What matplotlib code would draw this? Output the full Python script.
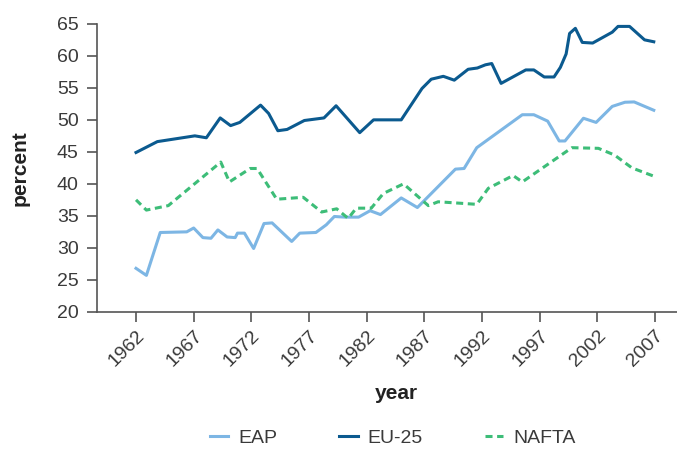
import matplotlib
matplotlib.use("Agg")
import matplotlib.pyplot as plt
from matplotlib.transforms import ScaledTranslation

# values (vertex positions, fractional years)
eap_years = [1962.0, 1962.9, 1964.1, 1966.4, 1967.0, 1967.8, 1968.5, 1969.1, 1969.9, 1970.6,
             1970.8, 1971.4, 1972.2, 1973.1, 1973.8, 1975.5, 1976.2, 1977.6, 1978.5, 1979.2,
             1980.1, 1981.3, 1982.3, 1983.2, 1985.0, 1986.4, 1989.7, 1990.45, 1991.55, 1995.5,
             1996.5, 1997.7, 1998.7, 1999.2, 2000.8, 2001.9, 2003.3, 2004.4, 2005.2, 2006.9]
eap_values = [26.8, 25.7, 32.4, 32.5, 33.1, 31.6, 31.5, 32.8, 31.7, 31.6,
              32.3, 32.3, 29.9, 33.8, 33.9, 31.0, 32.3, 32.4, 33.6, 34.9,
              34.8, 34.8, 35.8, 35.2, 37.8, 36.3, 42.3, 42.4, 45.65, 50.8,
              50.8, 49.8, 46.7, 46.7, 50.25, 49.6, 52.1, 52.75, 52.8, 51.5]

eu_years = [1962.0, 1963.85, 1967.1, 1968.1, 1969.3, 1970.2, 1971.0, 1972.0, 1972.8, 1973.5,
            1974.3, 1975.1, 1976.6, 1978.3, 1979.35, 1981.4, 1982.6, 1985.0, 1986.8, 1987.6,
            1988.65, 1989.6, 1990.8, 1991.6, 1992.3, 1992.85, 1993.66, 1995.8, 1996.5, 1997.4,
            1998.25, 1998.8, 1999.3, 1999.6, 2000.1, 2000.7, 2001.6, 2002.5, 2003.3, 2003.8,
            2004.8, 2006.1, 2006.9]
eu_values = [44.9, 46.6, 47.5, 47.2, 50.3, 49.1, 49.6, 51.1, 52.3, 51.0,
             48.3, 48.5, 49.9, 50.3, 52.2, 48.0, 50.0, 50.0, 54.9, 56.35,
             56.8, 56.2, 57.9, 58.1, 58.6, 58.8, 55.7, 57.8, 57.8, 56.7,
             56.7, 58.2, 60.3, 63.5, 64.3, 62.1, 62.0, 62.9, 63.7, 64.6,
             64.6, 62.5, 62.2]

nafta_years = [1962.0, 1962.9, 1964.8, 1969.35, 1970.1, 1971.9, 1972.5, 1974.2, 1976.5, 1978.1,
               1979.4, 1980.4, 1981.1, 1982.4, 1983.45, 1985.2, 1987.35, 1988.2, 1991.55, 1992.55,
               1994.7, 1995.5, 1999.8, 2002.1, 2003.5, 2005.0, 2006.9]
nafta_values = [37.5, 35.9, 36.6, 43.4, 40.3, 42.4, 42.4, 37.6, 37.9, 35.6,
                36.1, 34.6, 36.2, 36.2, 38.5, 40.0, 36.6, 37.2, 36.8, 39.3,
                41.3, 40.3, 45.65, 45.55, 44.5, 42.5, 41.2]

tick_years = [1962, 1967, 1972, 1977, 1982, 1987, 1992, 1997, 2002, 2007]
y_ticks = [20, 25, 30, 35, 40, 45, 50, 55, 60, 65]

plt.rcParams['font.family'] = ['Liberation Sans', 'DejaVu Sans']

C_EAP = '#7db6e4'
C_EU = '#0b5a8f'
C_NAFTA = '#3dbd78'
C_AXIS = '#555555'
C_TEXT = '#3a3a3a'

fig = plt.figure(figsize=(6.77, 4.5), dpi=100)
# the original chart is cropped on the right, so the axes run past the edge
ax = fig.add_axes([0.143, 0.307, 0.884, 0.640])

ax.plot(eap_years, eap_values, color=C_EAP, lw=2.2, label='EAP')
ax.plot(eu_years, eu_values, color=C_EU, lw=2.2, label='EU-25')
ax.plot(nafta_years, nafta_values, color=C_NAFTA, lw=2.2, linestyle=(0, (2.3, 1.5)), label='NAFTA')

ax.set_xlim(1958.6, 2010.5)
ax.set_ylim(20, 65)
ax.set_xticks(tick_years)
ax.set_yticks(y_ticks)
ax.set_xticklabels([str(y) for y in tick_years], rotation=45, ha='right', va='top',
                   rotation_mode='anchor', fontsize=14, color=C_TEXT)
ax.set_yticklabels([str(v) for v in y_ticks], fontsize=14, color=C_TEXT)

shift = ScaledTranslation(9 / 72, -3 / 72, fig.dpi_scale_trans)
for lab in ax.get_xticklabels():
    lab.set_transform(lab.get_transform() + shift)

for side in ['top', 'right']:
    ax.spines[side].set_visible(False)
for side in ['left', 'bottom']:
    ax.spines[side].set_color(C_AXIS)
    ax.spines[side].set_linewidth(1.2)
ax.tick_params(axis='both', colors=C_AXIS, length=7, width=1.2, labelcolor=C_TEXT)
ax.tick_params(axis='y', pad=6)
ax.tick_params(axis='x', pad=4)

ax.set_xlabel('year', fontsize=15, fontweight='bold', color='#222222', labelpad=10)
ax.set_ylabel('percent', fontsize=15, fontweight='bold', color='#222222', labelpad=20)

fig.legend(loc='center', bbox_to_anchor=(0.58, 0.027), ncol=3, frameon=False,
           fontsize=14, handlelength=0.95, handletextpad=0.5, columnspacing=3.2,
           labelcolor=C_TEXT)

fig.savefig('out.png', dpi=100)
